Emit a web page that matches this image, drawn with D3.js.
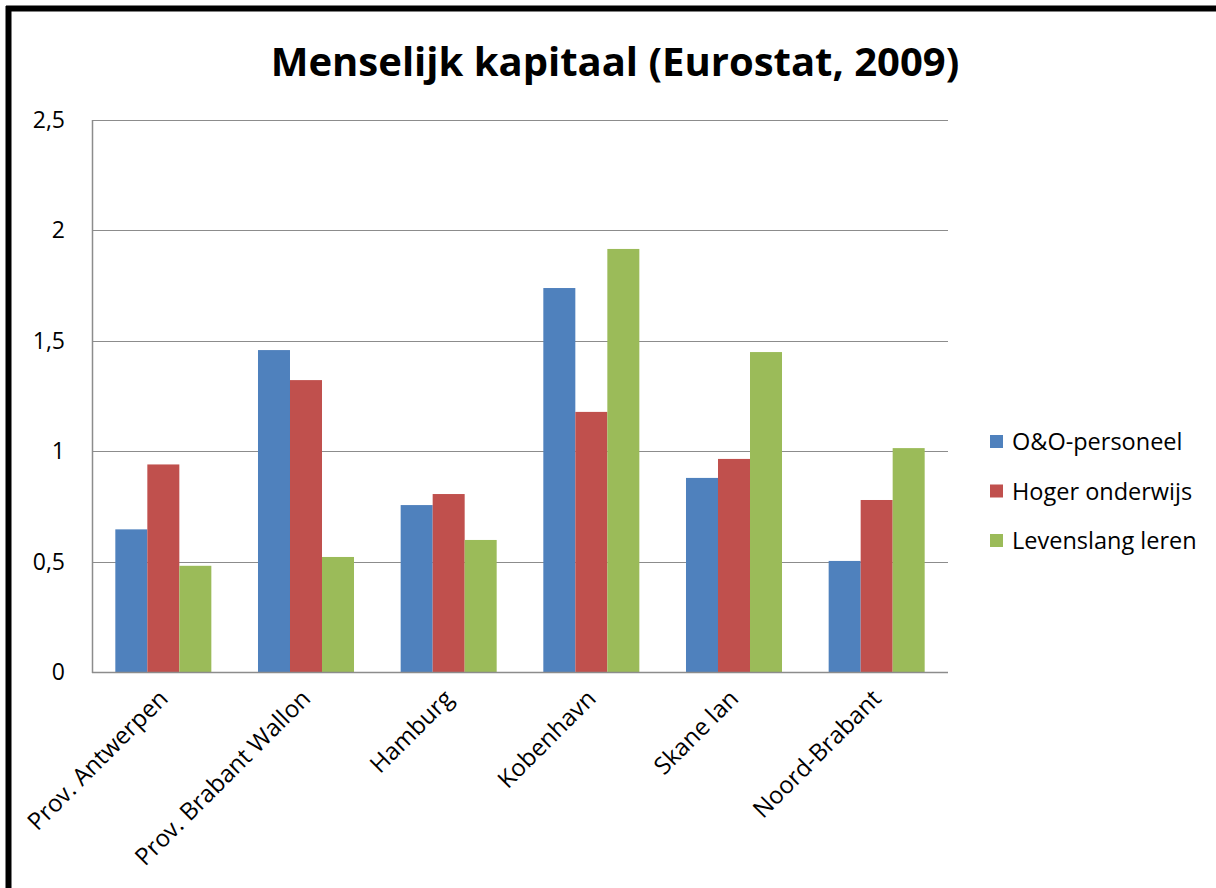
<!DOCTYPE html>
<html><head><meta charset="utf-8">
<script src="https://cdn.jsdelivr.net/npm/d3@7"></script>
<style>body{margin:0;background:#fff}svg{display:block}</style>
</head><body>
<script>
const categories = ["Prov. Antwerpen","Prov. Brabant Wallon","Hamburg","Kobenhavn","Skane lan","Noord-Brabant"];
const seriesNames = ["O&O-personeel","Hoger onderwijs","Levenslang leren"];
const ooPersoneel = [0.646,1.458,0.756,1.739,0.879,0.503];
const hogerOnderwijs = [0.94,1.322,0.806,1.178,0.965,0.779];
const levenslangLeren = [0.481,0.521,0.598,1.916,1.449,1.014];
const yTicks = [0,0.5,1,1.5,2,2.5];
const colors = ["#4f81bd","#c0504d","#9bbb59"];
const title = "Menselijk kapitaal (Eurostat, 2009)";

(function(){
const seriesValues = [ooPersoneel, hogerOnderwijs, levenslangLeren];
const W = 1216, H = 888;
const font = "'Open Sans', sans-serif";
const svg = d3.select("body").append("svg").attr("width", W).attr("height", H);

svg.append("rect").attr("width", W).attr("height", H).attr("fill", "#fff");
svg.append("line").attr("x1",6).attr("x2",W).attr("y1",8.5).attr("y2",8.5).attr("stroke","#000").attr("stroke-width",6);
svg.append("line").attr("x1",8.5).attr("x2",8.5).attr("y1",6).attr("y2",H).attr("stroke","#000").attr("stroke-width",6);

svg.append("text").attr("x",615).attr("y",76).attr("text-anchor","middle")
  .attr("font-family",font).attr("font-weight","bold").attr("font-size",40).attr("fill","#000").text(title);

const pL = 92, pR = 948, pT = 120, pB = 672;
const x0 = d3.scaleBand().domain(categories).range([pL, pR]).paddingInner(0.327).paddingOuter(0.1635);
const x1 = d3.scaleBand().domain(seriesNames).range([0, x0.bandwidth()]);
const y = d3.scaleLinear().domain([0, 2.5]).range([pB, pT]);

svg.append("g").selectAll("line").data(yTicks.filter(d=>d>0)).join("line")
  .attr("x1", pL).attr("x2", pR).attr("y1", d=>Math.round(y(d))+0.5).attr("y2", d=>Math.round(y(d))+0.5)
  .attr("stroke","#8c8c8c").attr("stroke-width",1);

seriesNames.forEach((s, si) => {
  svg.append("g").selectAll("rect").data(categories).join("rect")
    .attr("x", c => x0(c) + x1(s))
    .attr("width", x1.bandwidth())
    .attr("y", (c,i) => y(seriesValues[si][i]))
    .attr("height", (c,i) => y(0) - y(seriesValues[si][i]))
    .attr("fill", colors[si]);
});

svg.append("line").attr("x1",pL+0.5).attr("x2",pL+0.5).attr("y1",pT).attr("y2",pB+1).attr("stroke","#8c8c8c").attr("stroke-width",1.5);
svg.append("line").attr("x1",pL).attr("x2",pR).attr("y1",pB+0.5).attr("y2",pB+0.5).attr("stroke","#8c8c8c").attr("stroke-width",1.5);

const fmt = d => String(d).replace(".", ",");
svg.append("g").selectAll("text").data(yTicks).join("text")
  .attr("x", 65).attr("y", d => y(d)).attr("dy","0.35em").attr("text-anchor","end")
  .attr("font-family",font).attr("font-size",23).attr("fill","#000").text(fmt);

svg.append("g").selectAll("text").data(categories).join("text")
  .attr("transform", c => `translate(${x0(c)+x0.bandwidth()/2+6},${pB+28}) rotate(-45)`)
  .attr("text-anchor","end").attr("font-family",font).attr("font-size",24).attr("fill","#000").text(c=>c);

const lg = svg.append("g");
seriesNames.forEach((s,i) => {
  const yy = 442 + i*49.5;
  lg.append("rect").attr("x",990).attr("y",yy-7).attr("width",13).attr("height",13).attr("fill",colors[i]);
  lg.append("text").attr("x",1012).attr("y",yy).attr("dy","0.35em").attr("font-family",font).attr("font-size",23.5).attr("fill","#000").text(s);
});
})();
</script>
</body></html>
